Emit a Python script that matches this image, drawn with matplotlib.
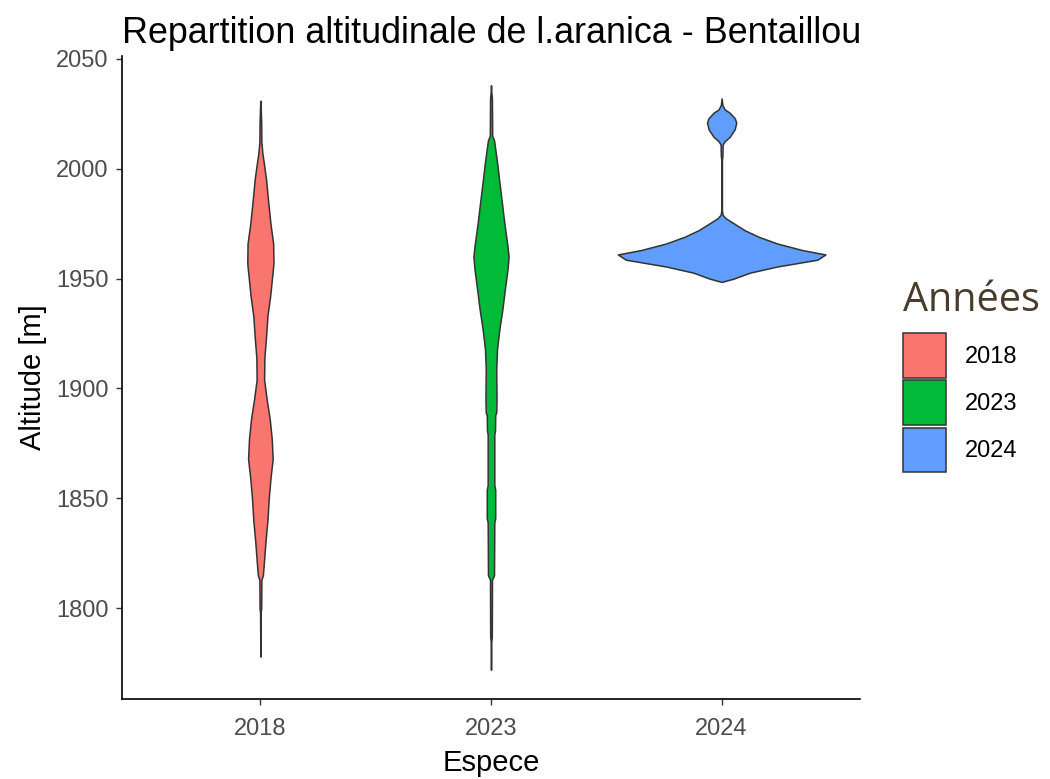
import matplotlib
matplotlib.use("Agg")
import matplotlib.pyplot as plt
from matplotlib.patches import Patch
import numpy as np

plt.rcParams['font.family'] = ['Liberation Sans', 'DejaVu Sans']

# categories and colours (ggplot default hue)
years = ['2018', '2023', '2024']
colors = ['#F8766D', '#00BA38', '#619CFF']

# violin profiles: altitude [m] and relative density
alt_2018 = [2031, 2028, 2021, 2012, 2007, 2003, 1995, 1987, 1975, 1966, 1957,
            1951, 1942, 1933, 1924, 1914, 1904, 1895, 1886, 1877, 1868, 1859,
            1850, 1840, 1831, 1822, 1815, 1813, 1800, 1798, 1778]
dens_2018 = [0, 0.3, 0.8, 1.0, 2.0, 3.3, 5.7, 7.3, 10, 12.7, 13,
             11.7, 9.7, 7, 5.7, 4, 3.7, 6.3, 9.3, 11.3, 12.2, 10,
             8.3, 7, 5.2, 3.7, 2.5, 1.0, 0.8, 0.3, 0]

alt_2023 = [2038, 2035, 2032, 2015, 2013, 2003, 1994, 1985, 1975, 1966, 1960,
            1954, 1945, 1936, 1927, 1918, 1909, 1895, 1889, 1888, 1881, 1879,
            1856, 1854, 1841, 1839, 1815, 1813, 1787, 1785, 1772]
dens_2023 = [0, 0.3, 0.9, 1.2, 3, 6, 8.3, 10.7, 13.3, 16, 17.5,
             16.3, 13.7, 11.3, 8.3, 6, 5.2, 5.5, 5.2, 4.2, 4.0, 3.3,
             3.3, 4.2, 4.2, 3.3, 3.0, 1.0, 0.8, 0.3, 0]

alt_2024 = [2032, 2029, 2027, 2025.5, 2023, 2021, 2018, 2014.5, 2012.5, 2011,
            2006, 2004, 1981, 1979, 1977.5, 1975.5, 1972, 1969, 1966, 1963,
            1961, 1958.6, 1955.5, 1952.7, 1950, 1948.5]
dens_2024 = [0, 0.8, 3, 8, 13, 14.5, 13, 8, 3, 1.0,
             0.8, 0.3, 0.3, 1.0, 4, 10.8, 23, 37, 55, 80,
             103, 95, 55, 28, 12, 0]

profiles = [(alt_2018, dens_2018), (alt_2023, dens_2023), (alt_2024, dens_2024)]

fig = plt.figure(figsize=(10.5, 7.79), dpi=100)
ax = fig.add_axes([122/1050, 1 - 699/779, (860 - 122)/1050, (699 - 56)/779])

# scale="area": widest violin gets half-width 0.45
dmax = max(max(d) for a, d in profiles)
for i, (a, d) in enumerate(profiles):
    a = np.array(a, dtype=float)
    w = np.array(d, dtype=float) / dmax * 0.45
    pos = i + 1
    ax.fill_betweenx(a, pos - w, pos + w, facecolor=colors[i],
                     edgecolor='#333333', linewidth=1.1, zorder=2)

ax.set_xlim(0.4, 3.6)
ax.set_ylim(1758.7, 2051.3)
ax.set_xticks([1, 2, 3])
ax.set_xticklabels(years)
ax.set_yticks([1800, 1850, 1900, 1950, 2000, 2050])

for s in ['top', 'right']:
    ax.spines[s].set_visible(False)
for s in ['left', 'bottom']:
    ax.spines[s].set_linewidth(1.2)
    ax.spines[s].set_color('black')
ax.tick_params(axis='both', length=4.5, width=1.0, color='#333333',
               labelcolor='#4D4D4D', labelsize=17)
ax.tick_params(axis='y', pad=5)
ax.tick_params(axis='x', pad=9.5)

ax.set_xlabel('Espece', fontsize=21, labelpad=6)
ax.set_ylabel('Altitude [m]', fontsize=21, labelpad=7)

fig.text(122/1050, 1 - 43/779, 'Repartition altitudinale de l.aranica - Bentaillou',
         fontsize=25.8, ha='left', va='baseline', color='black')

handles = [Patch(facecolor=c, edgecolor='#333333', linewidth=1.1, label=y)
           for c, y in zip(colors, years)]
leg = fig.legend(handles=handles, loc='upper left',
                 bbox_to_anchor=(903/1050, 1 - 280/779), frameon=False,
                 fontsize=17, handlelength=1.82, handleheight=2.55,
                 labelspacing=0.1, handletextpad=0.8, borderpad=0,
                 borderaxespad=0, title='Années',
                 title_fontproperties={'family': 'Open Sans', 'size': 28.5})
leg.get_title().set_color('#4A3C2C')
leg._legend_box.align = 'left'
leg._legend_box.sep = 9

fig.savefig('out.png', dpi=100)
